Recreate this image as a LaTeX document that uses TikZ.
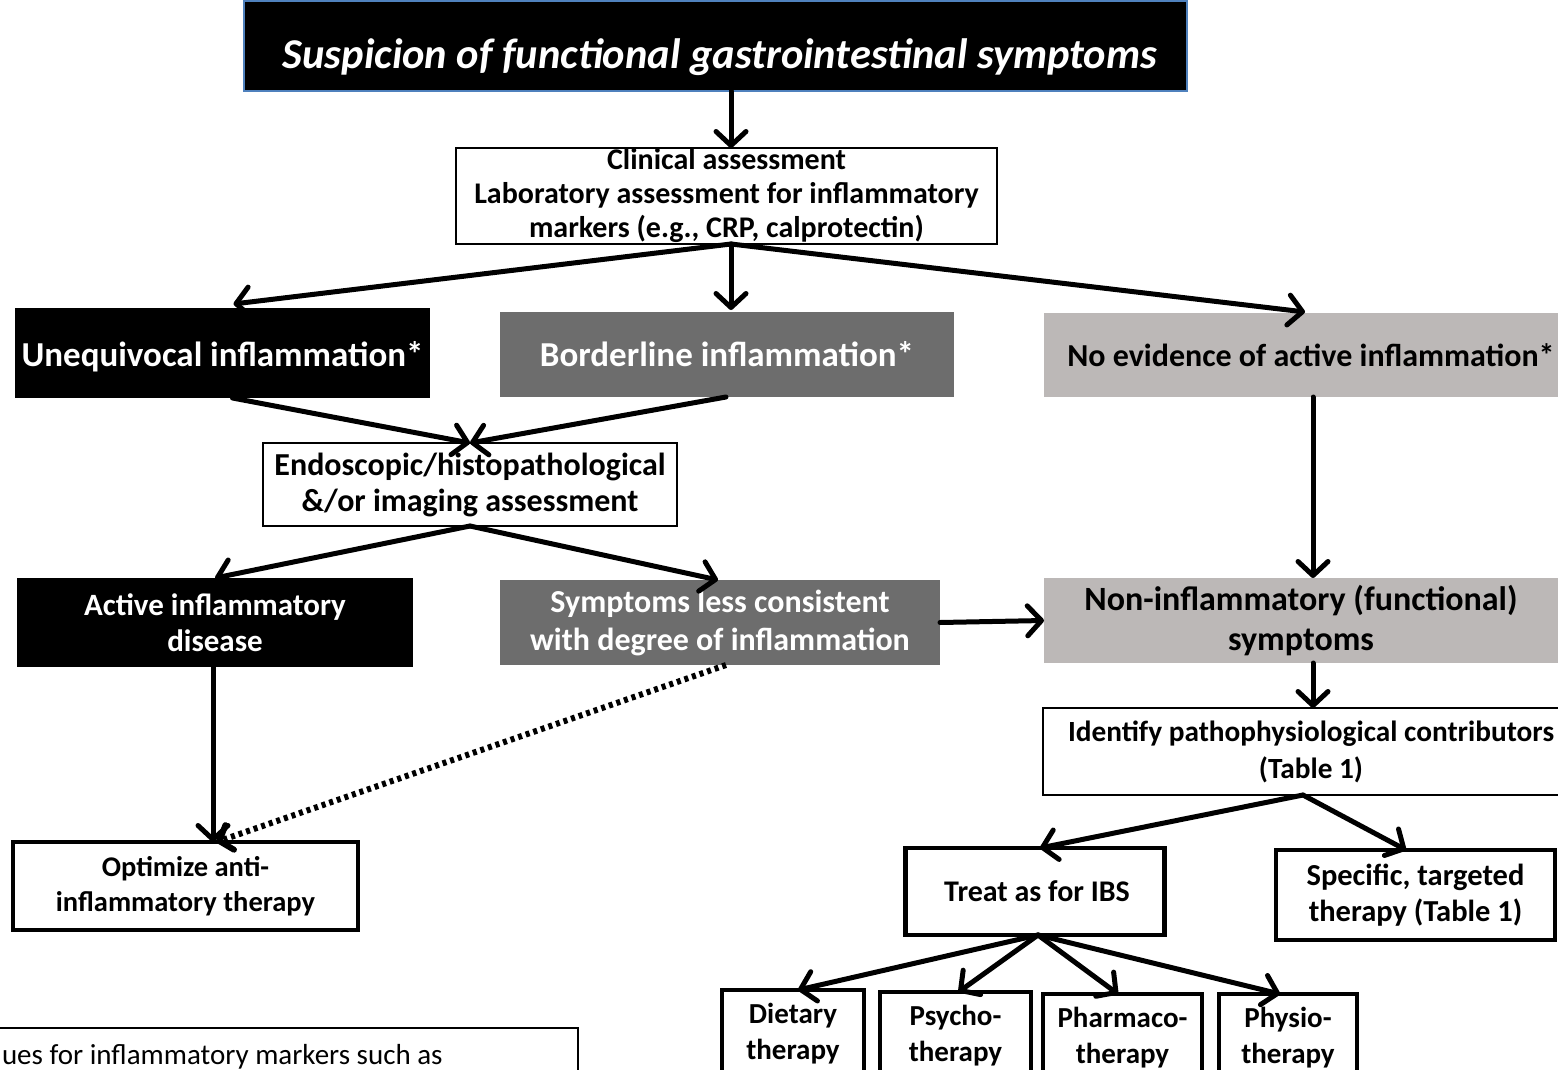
\documentclass[tikz,border=0pt]{standalone}
\usepackage{fontspec}
\setmainfont{Carlito}
\usetikzlibrary{arrows.meta,calc}
\definecolor{dkgray}{HTML}{6D6D6D}
\definecolor{ltgray}{HTML}{BCB8B7}
\definecolor{steel}{HTML}{4F81BD}
\begin{document}
\begin{tikzpicture}[x=1pt,y=-1pt,
  every node/.style={inner sep=0pt, outer sep=0pt, align=center},
  fs/.style 2 args={font=\bfseries\fontsize{#1}{#2}\selectfont},
  whitebox/.style={draw=black, line width=2pt, fill=white},
  thickbox/.style={draw=black, line width=4.5pt, fill=white},
  blackbox/.style={fill=black, text=white},
  darkbox/.style={fill=dkgray, text=white},
  lightbox/.style={fill=ltgray, text=black},
  arr/.style={line width=5pt, line cap=round, -{Straight Barb[length=14pt,width=30pt,line cap=round,line join=round]}},
  dotarr/.style={line width=6pt, dash pattern=on 4pt off 4pt, -{Straight Barb[length=11pt,width=26pt,line cap=round,line join=round]}}
]
\useasboundingbox (0,0) rectangle (1558,1070);
\clip (0,0) rectangle (1558,1070);

% title
\node[fill=black, draw=steel, line width=2.5pt, text=white, minimum width=943pt, minimum height=90pt,
  text height=45pt, text depth=0pt,
  font=\bfseries\itshape\fontsize{42.5}{50}\selectfont] (title) at (715.5,46) {\hspace*{9pt}Suspicion of functional gastrointestinal symptoms};

\node[whitebox, minimum width=541pt, minimum height=96pt, fs={30}{34}] (clin) at (726.5,196)
  {Clinical assessment\\Laboratory assessment for inflammatory\\markers (e.g., CRP, calprotectin)};

\node[blackbox, minimum width=415pt, minimum height=90pt, fs={35}{40}, text height=26pt, text depth=0pt] (uneq) at (222.5,353) {Unequivocal inflammation*};
\node[darkbox, minimum width=454pt, minimum height=85pt, fs={35}{40}] (bord) at (727,354.5) {Borderline inflammation*};
\node[lightbox, minimum width=534pt, minimum height=84pt, fs={32}{38}] (noev) at (1311,355) {No evidence of active inflammation*};

\node[whitebox, minimum width=414pt, minimum height=83pt, fs={32}{36}] (endo) at (470,484.5)
  {Endoscopic/histopathological\\\&/or imaging assessment};

\node[blackbox, minimum width=396pt, minimum height=89pt, fs={31}{36}] (act) at (215,622.5)
  {Active inflammatory\\disease};
\node[darkbox, minimum width=440pt, minimum height=85pt, fs={32}{38}] (symp) at (720,622.5)
  {Symptoms less consistent\\with degree of inflammation};
\node[lightbox, minimum width=514pt, minimum height=85pt, fs={34}{40}] (noninf) at (1301,620.5)
  {Non-inflammatory (functional)\\symptoms};

\node[whitebox, minimum width=536pt, minimum height=87pt, fs={29.3}{37}] (ident) at (1311,751.5)
  {Identify pathophysiological contributors\\(Table 1)};

\node[thickbox, minimum width=345pt, minimum height=88pt, fs={28.5}{35}] (opt) at (185.5,886)
  {Optimize anti-\\inflammatory therapy};

\node[thickbox, minimum width=259pt, minimum height=87pt, fs={30}{35}] (treat) at (1035,891.5) {\hspace*{4pt}Treat as for IBS};
\node[thickbox, minimum width=279pt, minimum height=90pt, fs={30.5}{36}] (spec) at (1415.5,895)
  {Specific, targeted\\therapy (Table 1)};

\node[thickbox, minimum width=142pt, minimum height=88pt, fs={29}{36}] (diet) at (793,1034) {Dietary\\therapy};
\node[thickbox, minimum width=151pt, minimum height=88pt, fs={29}{36}] (psych) at (955.5,1036) {Psycho-\\therapy};
\node[thickbox, minimum width=159pt, minimum height=88pt, fs={29}{36}] (pharm) at (1122.5,1038) {Pharmaco-\\therapy};
\node[thickbox, minimum width=138pt, minimum height=88pt, fs={29}{36}] (phys) at (1288,1038) {Physio-\\therapy};

% footnote box
\node[draw=black, line width=1.2pt, fill=white, minimum width=620pt, minimum height=80pt, anchor=north east] (foot) at (578,1028) {};
\node[anchor=base west, font=\fontsize{29}{34}\selectfont] (foottext) at (2,1064) {ues for inflammatory markers such as};

% arrows
\draw[arr] (title.south -| 731,0) -- (clin.north -| 731,0);
\coordinate (cs) at ($(clin.south)+(4.5,0)$);
\draw[arr] (cs) -- ($(uneq.north)+(11,-4)$);
\draw[arr] (cs) -- ($(bord.north)+(4,-2)$);
\draw[arr] (cs) -- ($(noev.north)+(-6,-1)$);
\coordinate (es) at (endo.north);
\draw[arr] ($(uneq.south)+(10,0)$) -- (es);
\draw[arr] ($(bord.south)+(-1,0)$) -- (es);
\draw[arr] (endo.south) -- ($(act.north)+(0,0)$);
\draw[arr] (endo.south) -- ($(symp.north)+(-2,0)$);
\draw[arr] ($(noev.south)+(2,0)$) -- ($(noninf.north)+(12,0)$);
\draw[arr] (symp.east) -- (noninf.west);
\draw[arr] ($(noninf.south)+(12,0)$) -- ($(ident.north)+(2,0)$);
\draw[arr] ($(act.south)+(-2,0)$) -- ($(opt.north)+(27.5,0)$);
\draw[dotarr] ($(symp.south)+(6,0)$) -- ($(opt.north)+(31,0)$);
\coordinate (is) at ($(ident.south)+(-8,0)$);
\draw[arr] (is) -- ($(treat.north)+(5,0)$);
\draw[arr] (is) -- ($(spec.north)+(-9.5,0)$);
\coordinate (ts) at ($(treat.south)+(3,0)$);
\draw[arr] (ts) -- ($(diet.north)+(5,0)$);
\draw[arr] (ts) -- ($(psych.north)+(3,0)$);
\draw[arr] (ts) -- ($(pharm.north)+(-4.5,0)$);
\draw[arr] (ts) -- ($(phys.north)+(-8,0)$);
\end{tikzpicture}
\end{document}
